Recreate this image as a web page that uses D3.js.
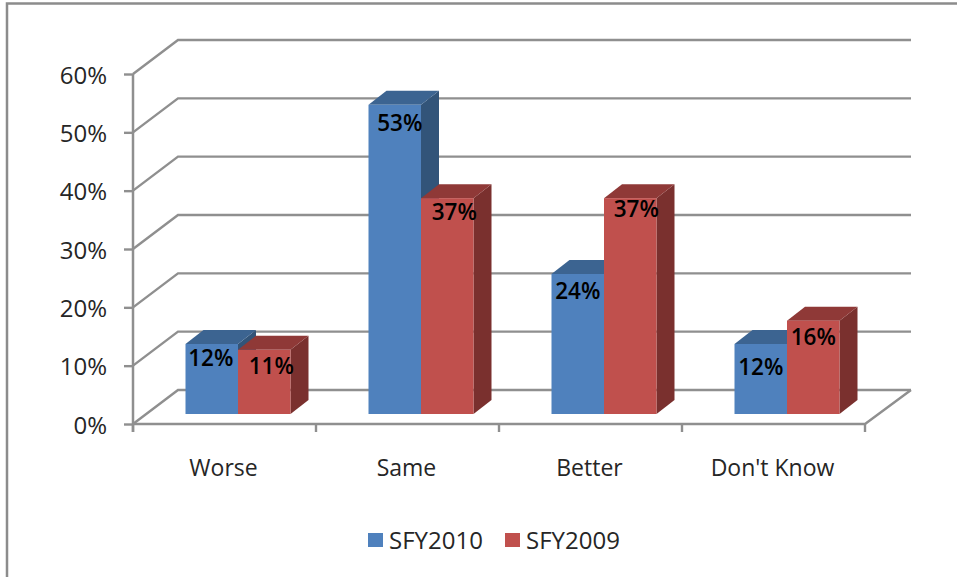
<!DOCTYPE html>
<html>
<head>
<meta charset="utf-8">
<script src="https://cdn.jsdelivr.net/npm/d3@7"></script>
<style>
  html, body { margin: 0; padding: 0; background: #fff; }
  svg { display: block; }
  text { font-family: "Open Sans", sans-serif; fill: #262626; }
</style>
</head>
<body>
<svg id="chart" width="957" height="577"></svg>
<script>
const categories = ["Worse", "Same", "Better", "Don't Know"];
const seriesNames = ["SFY2010", "SFY2009"];
const sfy2010 = [12, 53, 24, 12];
const sfy2009 = [11, 37, 37, 16];
const yTicks = [0, 10, 20, 30, 40, 50, 60];

const seriesValues = [sfy2010, sfy2009];
const faceColors = [
  { front: "#4f81bd", top: "#3c6491", side: "#325479" },
  { front: "#c0504d", top: "#8f3937", side: "#7a302e" }
];
const gridColor = "#8f8f8f";
const textColor = "#262626";

// Offset of the back wall and of the bars relative to the front plane
const wall = { dx: 45, dy: -34 };
const barPlane = { dx: 13.5, dy: -10 };
const barDepth = { dx: 18, dy: -14 };
const barGroupWidth = 105;

// Hand placement of the value labels, [dx, dy] from each bar's top centre
const labelShift = [
  [[-1, 22], [7, 24]],
  [[5, 26], [7, 22]],
  [[0, 25], [6, 19]],
  [[0, 31], [0, 24]]
];

const svg = d3.select("#chart");
const y = d3.scaleLinear().domain([0, 60]).range([424, 74]);
const x = d3.scaleBand().domain(categories).range([133, 865]);
const xInner = d3.scaleBand().domain(seriesNames).range([0, barGroupWidth]);
const poly = pts => pts.map(p => p.join(",")).join(" ");

// Outer frame: top and left edges only
svg.append("path")
  .attr("d", "M7,577V3.5H957")
  .attr("fill", "none").attr("stroke", "#8c8c8c").attr("stroke-width", 2.5);

// Gridlines wrapping the side wall and the back wall
const grid = svg.append("g").attr("fill", "none").attr("stroke", gridColor).attr("stroke-width", 2.4);
grid.selectAll("path").data(yTicks).join("path")
  .attr("d", t => {
    const py = y(t);
    return `M133,${py}L${133 + wall.dx},${py + wall.dy}H${865 + wall.dx + 1}`;
  });

// Floor edges
grid.append("path")
  .attr("d", `M133,${y(0)}H865L${865 + wall.dx + 1},${y(0) + wall.dy}`);

// Vertical axis with its tick marks and labels
const yAxis = d3.axisLeft(y).tickValues(yTicks).tickFormat(d => d + "%").tickSize(9).tickPadding(17);
const yG = svg.append("g").attr("transform", "translate(133,0)").call(yAxis);
yG.select(".domain").attr("stroke", gridColor).attr("stroke-width", 2.5).attr("d", `M0,${y(60)}V${y(0) + 8}`);
yG.selectAll(".tick line").attr("stroke", gridColor).attr("stroke-width", 2.4);
yG.selectAll(".tick text")
  .attr("font-size", 24).attr("dy", "0.38em").attr("fill", textColor)
  .style("font-family", '"Open Sans", sans-serif');

// Category tick marks fall on band edges, so they use the band scale's step
const xEdges = categories.map(c => x(c)).concat([x(categories[3]) + x.step()]);
svg.append("g").selectAll("line").data(xEdges).join("line")
  .attr("x1", d => d).attr("x2", d => d)
  .attr("y1", y(0)).attr("y2", y(0) + 8)
  .attr("stroke", gridColor).attr("stroke-width", 2.4);

svg.append("g").selectAll("text").data(categories).join("text")
  .attr("x", c => x(c) + x.bandwidth() / 2 - 1)
  .attr("y", 476)
  .attr("text-anchor", "middle")
  .attr("font-size", 23)
  .text(c => c);

// Bars: each is a front face, a top face and a right side face
const barsG = svg.append("g");
categories.forEach((cat, ci) => {
  const groupLeft = x(cat) + x.bandwidth() / 2 - barGroupWidth / 2 + barPlane.dx;
  seriesNames.forEach((name, si) => {
    const v = seriesValues[si][ci];
    const c = faceColors[si];
    const x0 = groupLeft + xInner(name);
    const x1 = x0 + xInner.bandwidth();
    const yTop = y(v) + barPlane.dy;
    const yBase = y(0) + barPlane.dy;
    const g = barsG.append("g");
    g.append("polygon").attr("fill", c.side).attr("points", poly([
      [x1, yTop], [x1 + barDepth.dx, yTop + barDepth.dy],
      [x1 + barDepth.dx, yBase + barDepth.dy], [x1, yBase]
    ]));
    g.append("polygon").attr("fill", c.top).attr("points", poly([
      [x0, yTop], [x0 + barDepth.dx, yTop + barDepth.dy],
      [x1 + barDepth.dx, yTop + barDepth.dy], [x1, yTop]
    ]));
    g.append("rect").attr("fill", c.front)
      .attr("x", x0).attr("y", yTop)
      .attr("width", x1 - x0).attr("height", yBase - yTop);
  });
});

// Value labels sit above every bar so neighbouring faces never cover them
const labelsG = svg.append("g");
categories.forEach((cat, ci) => {
  const groupLeft = x(cat) + x.bandwidth() / 2 - barGroupWidth / 2 + barPlane.dx;
  seriesNames.forEach((name, si) => {
    const v = seriesValues[si][ci];
    const [sx, sy] = labelShift[ci][si];
    labelsG.append("text")
      .attr("x", groupLeft + xInner(name) + xInner.bandwidth() / 2 + sx)
      .attr("y", y(v) + barPlane.dy + sy)
      .attr("text-anchor", "middle")
      .attr("font-size", 22.5)
      .attr("font-weight", 600)
      .style("fill", "#000")
      .text(v + "%");
  });
});

// Legend
const legendX = [368, 505];
const legend = svg.append("g").selectAll("g").data(seriesNames).join("g")
  .attr("transform", (d, i) => `translate(${legendX[i]},533)`);
legend.append("rect").attr("width", 15).attr("height", 14)
  .attr("fill", (d, i) => faceColors[i].front);
legend.append("text").attr("x", 21).attr("y", 16)
  .attr("font-size", 24)
  .text(d => d);
</script>
</body>
</html>
